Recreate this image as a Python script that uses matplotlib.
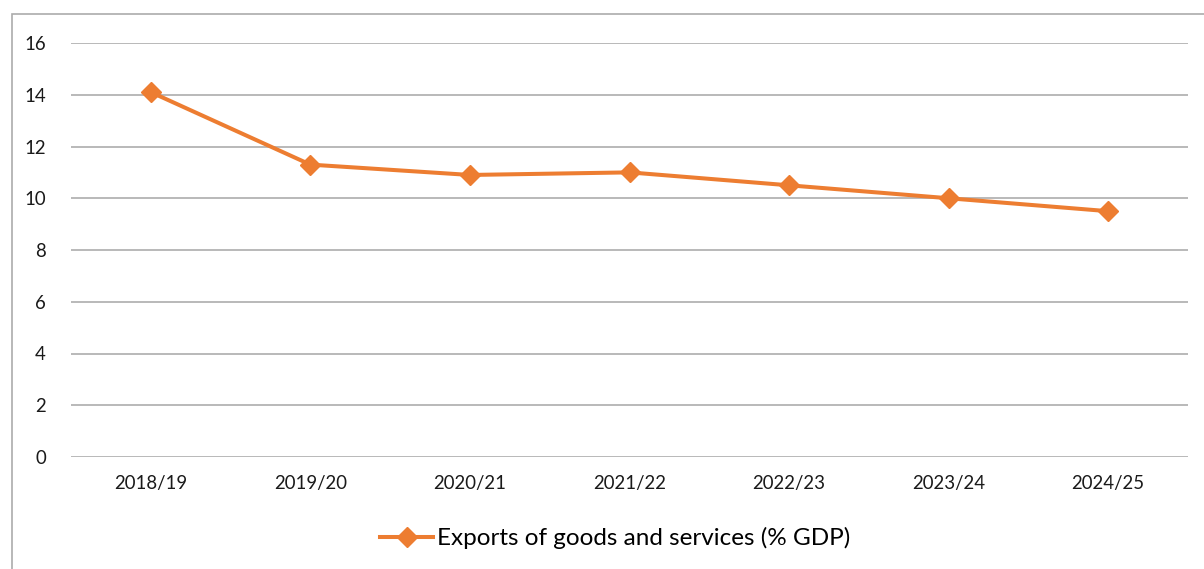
import matplotlib
matplotlib.use("Agg")
import matplotlib.pyplot as plt
from matplotlib.patches import Rectangle

plt.rcParams['font.family'] = ['Lato', 'DejaVu Sans']

years = ["2018/19", "2019/20", "2020/21", "2021/22", "2022/23", "2023/24", "2024/25"]
exports = [14.1, 11.3, 10.9, 11.0, 10.5, 10.0, 9.5]
yticks = [0, 2, 4, 6, 8, 10, 12, 14, 16]

W, H = 1204, 569
fig = plt.figure(figsize=(W / 100, H / 100), dpi=100)

# outer chart border (Excel style)
fig.patches.append(Rectangle((12 / W, -0.1), 1.5, 1 - 14 / H + 0.1, transform=fig.transFigure,
                             fill=False, edgecolor="#ABABAB", linewidth=1.2))

ax = fig.add_axes([71 / W, 1 - 457 / H, (1188 - 71) / W, (457 - 43) / H])
x = list(range(len(years)))
ax.plot(x, exports, color="#ED7D31", linewidth=2.9, marker="D", markersize=10,
        label="Exports of goods and services (% GDP)", zorder=3)

ax.set_xlim(-0.5, len(years) - 0.5)
ax.set_ylim(0, 16)
ax.set_yticks(yticks)
ax.set_xticks(x)
ax.set_xticklabels(years)
ax.yaxis.grid(True, color="#A5A5A5", linewidth=1.1)
ax.set_axisbelow(True)
for s in ax.spines.values():
    s.set_visible(False)
ax.tick_params(axis="both", length=0, labelsize=13.4, colors="#1a1a1a")
ax.tick_params(axis="y", pad=18)
ax.tick_params(axis="x", pad=13)

fig.legend(loc="center", bbox_to_anchor=(615 / W, 1 - 538 / H), frameon=False,
           fontsize=17.5, handlelength=2.2, handletextpad=0.15)

fig.savefig("out.png", dpi=100)
